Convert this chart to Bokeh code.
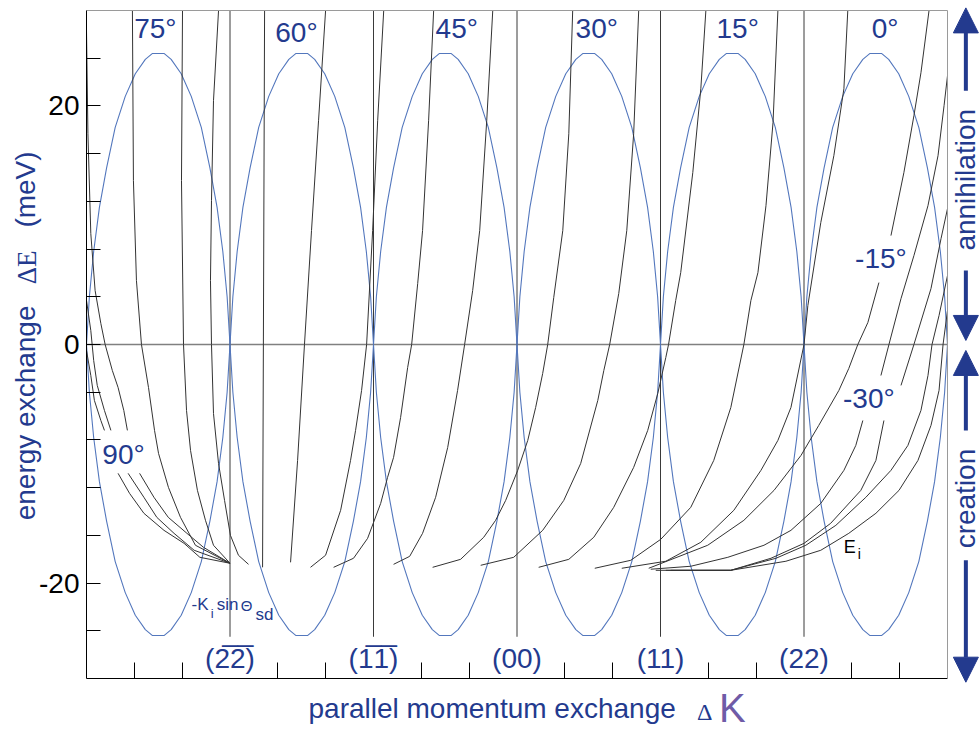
import math
from bokeh.plotting import figure
from bokeh.models import Range1d, FixedTicker, Label, Arrow, NormalHead, LinearAxis
from bokeh.core.properties import value
from bokeh.embed import file_html
from bokeh.resources import INLINE

NAN = float("nan")

# ---------------- data ----------------
# blue phonon dispersion: one arch per Brillouin zone (fraction of zone, meV)
arch_frac = [0, 0.02, 0.05, 0.09, 0.14, 0.20, 0.27, 0.34, 0.41, 0.46, 0.54, 0.59, 0.66, 0.73, 0.80, 0.86, 0.91, 0.95, 0.98, 1.0]
arch_energy = [0, 4.0, 7.8, 11.5, 14.8, 18.2, 20.8, 22.7, 23.9, 24.4, 24.4, 23.9, 22.7, 20.8, 18.2, 14.8, 11.5, 7.8, 4.0, 0]
zone_starts = [-3, -2, -1, 0, 1, 2]

# reciprocal lattice points
g_points = [-2, -1, 0, 1, 2]
g_labels = ["(2\u03052\u0305)", "(1\u03051\u0305)", "(00)", "(11)", "(22)"]
g_line_bottom = -24.5

# scan curves (parallel momentum exchange, energy exchange in meV)
f1_dk = [-3.0, -2.97, -2.945, -2.90, -2.875, NAN, -2.78, -2.70, -2.60, -2.46, -2.32, -2.21, -2.0]
f1_de = [-0.50, -2.60, -4.69, -6.37, -7.20, NAN, -10.80, -12.48, -14.15, -15.58, -16.67, -17.84, -18.34]
f2_dk = [-3.0, -2.97, -2.95, -2.925, -2.875, -2.83, NAN, -2.71, -2.60, -2.51, -2.39, -2.25, -2.0]
f2_de = [3.69, 1.17, -1.34, -3.43, -5.53, -7.20, NAN, -10.80, -12.81, -14.49, -15.83, -17.25, -18.34]
f3_dk = [-3.0, -2.99, -2.97, -2.94, -2.90, -2.87, -2.82, -2.78, -2.74, -2.715, NAN, -2.63, -2.53, -2.43, -2.30, -2.185, -2.0]
f3_de = [26.3, 17.67, 9.30, 4.52, 1.76, 0.0, -2.18, -3.60, -5.53, -7.20, NAN, -10.80, -12.81, -14.49, -15.83, -17.0, -18.34]
l1_dk = [-2.68, -2.673, -2.652, -2.617, -2.568, -2.526, -2.498, -2.429, -2.345, -2.241, -2.0]
l1_de = [27.97, 13.74, 5.36, 0.0, -3.60, -7.20, -9.13, -11.98, -14.49, -16.83, -18.34]
l2_dk = [-2.331, -2.338, -2.324, -2.303, -2.275, -2.227, -2.171, -2.115, -2.0]
l2_de = [27.97, 13.74, 0.0, -5.53, -8.88, -12.23, -14.74, -16.83, -18.34]
l3_dk = [-2.08, -2.115, -2.129, -2.136, -2.129, -2.115, -2.08, -2.038, -1.997, -1.941, -1.871]
l3_de = [27.97, 20.44, 12.06, 5.36, 0.0, -5.78, -9.97, -13.07, -16.0, -17.67, -18.43]
l4_dk = [-1.759, -1.773]
l4_de = [27.97, -18.68]
l5_dk = [-1.334, -1.383, -1.432, -1.481, -1.529, -1.578]
l5_de = [27.97, 18.76, 9.55, 0.0, -9.72, -18.26]
l6_dk = [-0.929, -0.971, -1.006, -1.048, -1.083, -1.125, -1.16, -1.229, -1.334, -1.439]
l6_de = [27.97, 18.76, 9.55, 0.0, -3.85, -7.20, -9.72, -13.90, -17.67, -18.68]
l7_dk = [-1.278, -1.139, -1.041, -0.95, -0.902, -0.86, -0.811, -0.762, -0.734, -0.692, -0.658, -0.616, -0.581]
l7_de = [-18.68, -17.92, -16.25, -13.32, -11.14, -9.46, -6.11, -1.93, 0.0, 5.11, 9.55, 18.76, 27.97]
l8_dk = [-0.86, -0.748, -0.658, -0.567, -0.483, -0.414, -0.365, -0.309, -0.26, -0.211, -0.169]
l8_de = [-18.43, -17.76, -15.83, -12.81, -8.63, -3.85, 0.0, 4.52, 9.55, 18.76, 27.97]
l9_dk = [-0.588, -0.393, -0.232, -0.149, -0.079, 0.005, 0.075, 0.13, 0.179, 0.214, 0.256, 0.319, 0.361, 0.388]
l9_de = [-18.68, -18.01, -16.16, -14.74, -13.07, -10.55, -8.04, -5.28, -2.43, 0.0, 3.94, 9.55, 17.67, 27.97]
l10_dk = [-0.253, -0.023, 0.179, 0.326, 0.444, 0.563, 0.605, 0.646, 0.709, 0.765, 0.813, 0.848]
l10_de = [-18.51, -17.84, -15.58, -13.07, -9.97, -4.69, -2.18, 0.0, 4.27, 9.55, 17.67, 27.97]
l11_dk = [0.151, 0.361, 0.535, 0.674, 0.813, 0.911, 0.981, 1.037, 1.056, 1.106, 1.141, 1.225, 1.281, 1.316]
l11_de = [-18.68, -18.01, -16.16, -13.65, -10.30, -7.20, -4.10, -1.09, 0.0, 3.69, 6.03, 14.41, 21.44, 27.97]
l12_dk = [0.542, 0.793, 1.002, 1.211, 1.371, 1.49, 1.581, 1.63, 1.679, 1.735, 1.784, 1.818]
l12_de = [-18.76, -18.09, -16.33, -13.65, -9.72, -5.28, 0.0, 3.69, 6.03, 11.64, 18.59, 27.97]
l13_dk = [0.73, 1.037, 1.281, 1.511, 1.70, 1.818, 1.909, 2.0, 2.027, 2.117, 2.208, 2.278, 2.305]
l13_de = [-18.76, -18.17, -16.58, -13.90, -10.55, -8.04, -5.28, 0.0, 3.27, 10.22, 15.83, 21.44, 27.97]
l15_dk = [0.918, 1.329, 1.581, 1.791, 1.979, 2.103, 2.243, 2.312, 2.375, 2.445, 2.522, NAN, 2.606, 2.696, 2.766, 2.815, 2.871]
l15_de = [-18.76, -16.83, -14.74, -12.23, -9.30, -6.78, -3.85, -2.01, 0.0, 1.84, 5.19, NAN, 9.13, 14.41, 19.18, 22.78, 27.97]
r1_dk = [0.932, 1.211, 1.469, 1.721, 1.909, 2.117, 2.278, 2.361, 2.41, NAN, 2.536, 2.592, 2.676, 2.766, 2.864, 2.934, 2.976, 3.0]
r1_de = [-18.84, -18.59, -17.84, -16.83, -15.58, -13.32, -10.55, -8.46, -6.37, NAN, -2.60, 0.0, 3.85, 7.45, 11.64, 15.83, 20.02, 22.53]
r2_dk = [0.967, 1.49, 1.77, 2.0, 2.186, 2.396, 2.501, 2.557, NAN, 2.676, 2.766, 2.885, 2.955, 3.0]
r2_de = [-18.93, -18.93, -17.92, -16.67, -14.99, -12.23, -9.72, -6.37, NAN, -3.43, 0.0, 4.69, 8.88, 11.39]
r3_dk = [1.037, 1.49, 1.805, 2.013, 2.222, 2.431, 2.606, 2.724, 2.815, 2.864, 2.892, 2.941, 3.0]
r3_de = [-18.93, -18.93, -17.92, -16.83, -15.16, -12.81, -10.55, -8.46, -5.53, -2.60, 0.0, 2.43, 5.78]
r4_dk = [1.071, 1.49, 1.874, 2.117, 2.312, 2.501, 2.662, 2.794, 2.885, 2.941, 2.969, 3.0]
r4_de = [-18.93, -18.93, -18.17, -17.25, -15.83, -14.15, -12.23, -9.72, -6.78, -3.85, 0.0, 2.85]

scan_curves = [(f1_dk, f1_de), (f2_dk, f2_de), (f3_dk, f3_de), (l1_dk, l1_de), (l2_dk, l2_de),
               (l3_dk, l3_de), (l4_dk, l4_de), (l5_dk, l5_de), (l6_dk, l6_de), (l7_dk, l7_de),
               (l8_dk, l8_de), (l9_dk, l9_de), (l10_dk, l10_de), (l11_dk, l11_de), (l12_dk, l12_de),
               (l13_dk, l13_de), (l15_dk, l15_de), (r1_dk, r1_de), (r2_dk, r2_de), (r3_dk, r3_de),
               (r4_dk, r4_de)]

angle_texts = ["75\u00b0", "60\u00b0", "45\u00b0", "30\u00b0", "15\u00b0", "0\u00b0", "-15\u00b0", "-30\u00b0", "90\u00b0"]

x_min, x_max = -3, 3
y_min, y_max = -28, 28
y_major = [-20, 0, 20]
y_minor = [-24, -16, -12, -8, -4, 4, 8, 12, 16, 24]
x_minor = [k / 3 for k in range(-8, 9) if k % 3 != 0]

# ---------------- styling / layout ----------------
NAVY = "#233a8e"
ARCH = "#5377bd"
SCAN = "#333333"
PURPLE = "#6f5ba7"
SANS = "Liberation Sans"
SERIF = "Liberation Serif"

W, H = 980, 729
FL, FR, FT, FB = 86, 33, 10, 51          # plot box margins inside the canvas (px)
sx = (W - FL - FR) / (x_max - x_min)
sy = (H - FT - FB) / (y_max - y_min)
p = figure(width=W, height=H,
           x_range=Range1d(x_min - FL / sx, x_max + FR / sx),
           y_range=Range1d(y_min - FB / sy, y_max + FT / sy),
           x_axis_location=None, y_axis_location=None,
           output_backend="svg", toolbar_location=None, min_border=0)
p.grid.visible = False
p.outline_line_color = None
p.background_fill_color = "white"
p.border_fill_color = "white"

# left axis
yax = LinearAxis(fixed_location=x_min, bounds=(y_min, y_max),
                 ticker=FixedTicker(ticks=y_major, minor_ticks=y_minor),
                 major_label_overrides={20: "20", 0: "0", -20: "-20"},
                 major_tick_in=14, major_tick_out=0, minor_tick_in=14, minor_tick_out=0,
                 major_label_standoff=7, major_label_text_font=SANS,
                 major_label_text_font_size="28px", major_label_text_color="black",
                 axis_line_color="black", major_tick_line_color="black", minor_tick_line_color="black")
p.add_layout(yax, "left")
# bottom axis
xax = LinearAxis(fixed_location=y_min, bounds=(x_min, x_max),
                 ticker=FixedTicker(ticks=[], minor_ticks=x_minor),
                 minor_tick_in=16, minor_tick_out=0, major_tick_in=0, major_tick_out=0,
                 axis_line_color="black", minor_tick_line_color="black")
p.add_layout(xax, "below")
# top and right frame lines
tax = LinearAxis(fixed_location=y_max, bounds=(x_min, x_max), ticker=FixedTicker(ticks=[]),
                 axis_line_color="#9a9a9a", major_tick_line_color=None, minor_tick_line_color=None)
p.add_layout(tax, "above")
rax = LinearAxis(fixed_location=x_max, bounds=(y_min, y_max), ticker=FixedTicker(ticks=[]),
                 axis_line_color="#9a9a9a", major_tick_line_color=None, minor_tick_line_color=None)
p.add_layout(rax, "right")

# zero line
p.segment(x0=[x_min], y0=[0], x1=[x_max], y1=[0], line_color="#808080", line_width=1.6)

# reciprocal lattice lines
p.segment(x0=g_points, y0=[g_line_bottom] * len(g_points), x1=g_points, y1=[y_max] * len(g_points),
          line_color="#3a3a3a", line_width=1)

# dispersion arches (upper and lower branch in every zone)
xs, ys = [], []
for z in zone_starts:
    xs.append([z + f for f in arch_frac]); ys.append(list(arch_energy))
    xs.append([z + f for f in arch_frac]); ys.append([-e for e in arch_energy])
p.multi_line(xs=xs, ys=ys, line_color=ARCH, line_width=1.1)

# scan curves
for dk, de in scan_curves:
    p.line(dk, de, line_color=SCAN, line_width=1)

# reciprocal lattice labels
p.text(x=g_points, y=[-26.3] * len(g_points), text=g_labels, text_font=value(SANS),
       text_font_size="28px", text_color=NAVY, text_align="center", text_baseline="middle")

# angle labels
angle_x = [-2.52, -1.537, -0.42, 0.556, 1.538, 2.565, 2.536, 2.452, -2.742]
angle_y = [26.47, 26.13, 26.47, 26.47, 26.47, 26.47, 7.20, -4.52, -9.21]
p.text(x=angle_x, y=angle_y, text=angle_texts, text_font=value(SANS), text_font_size="28px",
       text_color=NAVY, text_align="center", text_baseline="middle")

def lab(x, y, t, size, color=NAVY, font=SANS, angle=0.0):
    p.add_layout(Label(x=x, y=y, text=t, text_font=font, text_font_size=size, text_color=color,
                       text_align="left", text_baseline="middle", angle=angle))

# -K_i sin Theta_sd
lab(-2.268, -21.80, "-K", "17px")
lab(-2.134, -22.51, "i", "13px")
lab(-2.093, -21.80, "sin", "17px")
lab(-1.925, -21.86, "\u0398", "15px")
lab(-1.822, -22.63, "sd", "17px")
# E_i
lab(2.277, -16.99, "E", "18px", color="black")
lab(2.375, -17.53, "i", "14px", color="black")

# axis titles
lab(-3.424, -14.74, "energy exchange", "28px", angle=math.pi / 2)
lab(-3.412, 5.05, "\u0394E", "27px", font=SERIF, angle=math.pi / 2)
lab(-3.424, 9.80, "(meV)", "28px", angle=math.pi / 2)
lab(-1.453, -30.53, "parallel momentum exchange", "28px")
lab(1.255, -30.80, "\u0394", "24px", font=SERIF)
lab(1.407, -30.51, "K", "40px", color=PURPLE)

# right side: annihilation / creation
lab(3.126, 7.87, "annihilation", "28px", angle=math.pi / 2)
lab(3.126, -17.09, "creation", "28px", angle=math.pi / 2)
ax = 3.128
for y0, y1 in [(21.27, 28.22), (6.20, 0.34), (-7.20, -0.50), (-18.09, -28.31)]:
    p.add_layout(Arrow(end=NormalHead(size=25, fill_color=NAVY, line_color=NAVY, line_width=1),
                       x_start=ax, y_start=y0, x_end=ax, y_end=y1,
                       line_color=NAVY, line_width=4))

open("out.html", "w").write(file_html(p, INLINE))
